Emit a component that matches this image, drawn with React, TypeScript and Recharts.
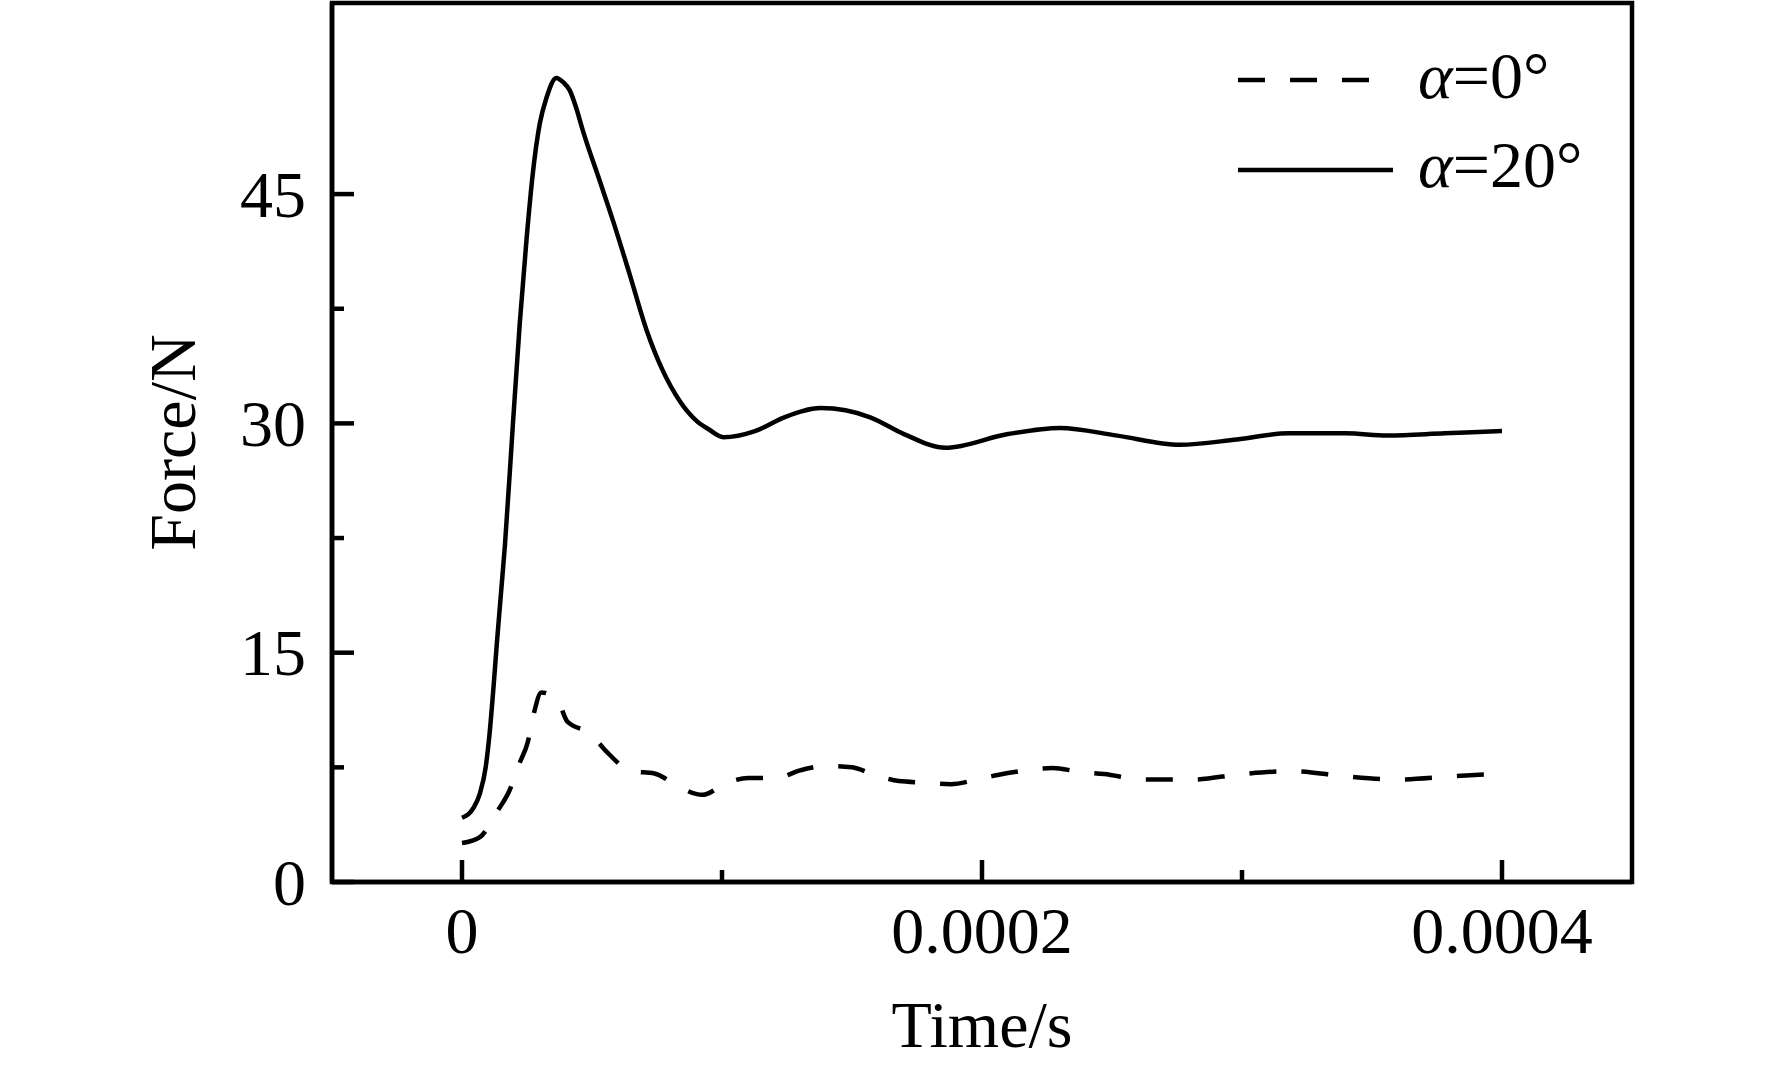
import { LineChart, Line, XAxis, YAxis, ReferenceArea } from 'recharts';

// α=0° (dashed)
const timeA0 = [0, 0.69e-5, 1.35e-5, 1.83e-5, 2.22e-5, 2.53e-5, 2.76e-5, 3.05e-5, 3.67e-5, 4.05e-5, 4.94e-5, 5.52e-5, 6.52e-5, 7.4e-5, 8.36e-5, 9.24e-5, 1.02e-4, 1.1e-4, 1.21e-4, 1.3e-4, 1.4e-4, 1.5e-4, 1.58e-4, 1.68e-4, 1.78e-4, 1.88e-4, 1.98e-4, 2.06e-4, 2.17e-4, 2.27e-4, 2.38e-4, 2.47e-4, 2.62e-4, 2.81e-4, 3.0e-4, 3.2e-4, 3.4e-4, 3.6e-4, 3.8e-4, 4.0e-4];
const forceA0 = [2.55, 2.94, 4.6, 6.0, 7.8, 9.15, 11.0, 12.4, 11.9, 10.5, 9.7, 8.6, 7.25, 7.1, 6.2, 5.7, 6.5, 6.8, 6.8, 7.3, 7.6, 7.5, 7.06, 6.6, 6.5, 6.4, 6.7, 7.0, 7.3, 7.45, 7.2, 7.06, 6.7, 6.7, 7.06, 7.25, 6.9, 6.7, 6.9, 7.1];

// α=20° (solid)
const timeA20 = [0, 0.46e-5, 0.69e-5, 0.91e-5, 1.06e-5, 1.21e-5, 1.34e-5, 1.5e-5, 1.65e-5, 1.96e-5, 2.22e-5, 2.48e-5, 2.72e-5, 2.99e-5, 3.25e-5, 3.63e-5, 3.9e-5, 4.14e-5, 4.4e-5, 4.64e-5, 5.29e-5, 5.8e-5, 6.44e-5, 7.1e-5, 7.71e-5, 8.36e-5, 9.0e-5, 9.5e-5, 1.005e-4, 1.127e-4, 1.24e-4, 1.38e-4, 1.57e-4, 1.7e-4, 1.86e-4, 2.1e-4, 2.3e-4, 2.52e-4, 2.76e-4, 2.98e-4, 3.18e-4, 3.4e-4, 3.56e-4, 3.78e-4, 4.0e-4];
const forceA20 = [4.2, 4.9, 5.8, 7.5, 9.7, 12.7, 15.6, 18.9, 22.0, 30.0, 36.5, 42.0, 46.3, 49.6, 51.3, 52.6, 52.3, 51.8, 50.6, 49.2, 45.9, 43.3, 39.8, 36.1, 33.5, 31.5, 30.2, 29.6, 29.1, 29.5, 30.4, 31.0, 30.4, 29.3, 28.4, 29.3, 29.7, 29.2, 28.6, 28.95, 29.35, 29.35, 29.2, 29.35, 29.5];

const xTicks = [0, 0.0001, 0.0002, 0.0003, 0.0004];
const xMajor = [0, 0.0002, 0.0004];
const xTickLabels = ['0', '0.0002', '0.0004'];
const yTicks = [0, 7.5, 15, 22.5, 30, 37.5, 45];
const yMajor = [0, 15, 30, 45];
const seriesNames = ['α=0°', 'α=20°'];

const dataA0 = timeA0.map((t, i) => ({ t, f: forceA0[i] }));
const dataA20 = timeA20.map((t, i) => ({ t, f: forceA20[i] }));

const FONT = "'Liberation Serif', 'Times New Roman', Times, serif";
const textStyle = { fontFamily: FONT, fontSize: 66 };
const DASH = '27 25';
const LW = 4.5;

const renderYTick = (props: any) => {
  const { x, y, payload } = props;
  const major = yMajor.includes(payload.value);
  return (
    <g>
      <line x1={x} x2={x + (major ? 22 : 12)} y1={y} y2={y} stroke="#000" strokeWidth={LW} />
      {major && (
        <text x={x - 26} y={y} textAnchor="end" dominantBaseline="central" style={textStyle} fill="#000">
          {payload.value}
        </text>
      )}
    </g>
  );
};

const renderXTick = (props: any) => {
  const { x, y, payload } = props;
  const idx = xMajor.findIndex(v => Math.abs(v - payload.value) < 1e-9);
  const major = idx >= 0;
  return (
    <g>
      <line x1={x} x2={x} y1={y} y2={y - (major ? 22 : 12)} stroke="#000" strokeWidth={LW} />
      {major && (
        <text x={x} y={y + 71} textAnchor="middle" style={textStyle} fill="#000">
          {xTickLabels[idx]}
        </text>
      )}
    </g>
  );
};

const renderYLabel = (props: any) => {
  const { viewBox } = props;
  const cx = viewBox.x + viewBox.width - 137;
  const cy = viewBox.y + viewBox.height / 2;
  return (
    <text x={cx} y={cy} transform={`rotate(-90, ${cx}, ${cy})`} textAnchor="middle" style={textStyle} fill="#000">
      Force/N
    </text>
  );
};

const renderXLabel = (props: any) => {
  const { viewBox } = props;
  return (
    <text x={viewBox.x + viewBox.width / 2} y={viewBox.y + 165} textAnchor="middle" style={textStyle} fill="#000">
      Time/s
    </text>
  );
};

const LegendBox = () => (
  <svg width={1772} height={1066} style={{ position: 'absolute', left: 0, top: 0, pointerEvents: 'none' }}>
    {seriesNames.map((name, i) => (
      <g key={name}>
        <line
          x1={1238}
          x2={i === 0 ? 1369 : 1393}
          y1={80 + i * 90}
          y2={80 + i * 90}
          stroke="#000"
          strokeWidth={LW}
          strokeDasharray={i === 0 ? DASH : undefined}
        />
        <text x={1418} y={98 + i * 89} style={textStyle} fill="#000">
          <tspan style={{ fontStyle: 'italic' }}>{name.slice(0, 1)}</tspan>
          {name.slice(1)}
        </text>
      </g>
    ))}
  </svg>
);

export default function App() {
  return (
    <div style={{ position: 'absolute', left: 0, top: 0, width: 1772, height: 1066, background: '#fff', fontFamily: FONT }}>
      <LineChart width={1772} height={1066} margin={{ top: 3, right: 140, bottom: 183, left: 331 }}>
        <XAxis
          dataKey="t"
          type="number"
          domain={[-0.00005, 0.00045]}
          ticks={xTicks}
          interval={0}
          allowDataOverflow
          height={1}
          tickSize={0}
          tickMargin={0}
          tickLine={false}
          tick={renderXTick}
          axisLine={{ stroke: '#000', strokeWidth: LW }}
          label={renderXLabel}
        />
        <YAxis
          type="number"
          domain={[0, 57.5]}
          ticks={yTicks}
          interval={0}
          allowDataOverflow
          width={1}
          tickSize={0}
          tickMargin={0}
          tickLine={false}
          tick={renderYTick}
          axisLine={{ stroke: '#000', strokeWidth: LW }}
          label={renderYLabel}
        />
        <ReferenceArea x1={-0.00005} x2={0.00045} y1={0} y2={57.5} fill="none" stroke="#000" strokeWidth={LW} />
        <Line
          data={dataA0}
          dataKey="f"
          name={seriesNames[0]}
          type="monotone"
          stroke="#000"
          strokeWidth={LW}
          strokeDasharray={DASH}
          dot={false}
          isAnimationActive={false}
        />
        <Line
          data={dataA20}
          dataKey="f"
          name={seriesNames[1]}
          type="monotone"
          stroke="#000"
          strokeWidth={LW}
          dot={false}
          isAnimationActive={false}
        />
      </LineChart>
      <LegendBox />
    </div>
  );
}
